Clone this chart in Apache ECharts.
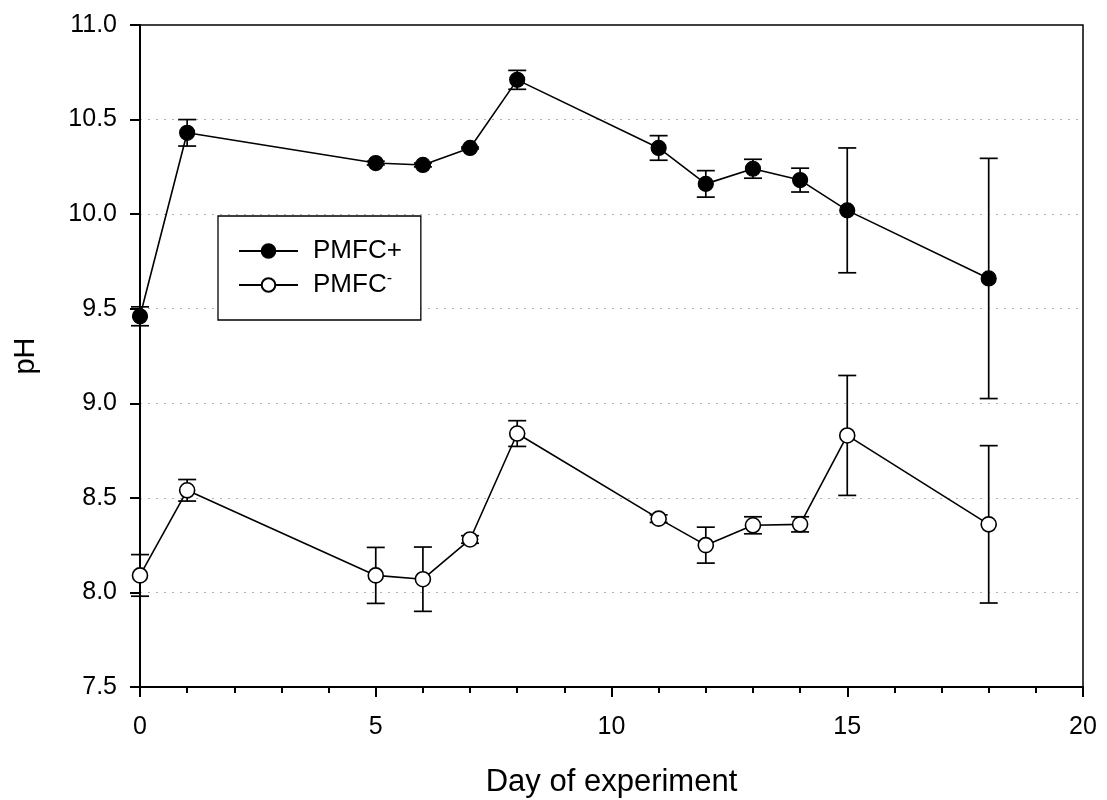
<!DOCTYPE html>
<html>
<head>
<meta charset="utf-8">
<script src="https://cdn.jsdelivr.net/npm/echarts@6/dist/echarts.min.js"></script>
<style>html,body{margin:0;padding:0;background:#fff}#c{width:1107px;height:800px}</style>
</head>
<body>
<div id="c"></div>
<script>
const days = [0, 1, 5, 6, 7, 8, 11, 12, 13, 14, 15, 18];
const plusMean = [9.46, 10.43, 10.27, 10.26, 10.35, 10.71, 10.35, 10.16, 10.24, 10.18, 10.02, 9.66];
const plusErr  = [0.05, 0.07, 0.01, 0.01, 0.005, 0.05, 0.065, 0.07, 0.05, 0.063, 0.33, 0.635];
const minusMean = [8.09, 8.54, 8.09, 8.07, 8.28, 8.84, 8.39, 8.25, 8.355, 8.36, 8.83, 8.36];
const minusErr  = [0.11, 0.057, 0.148, 0.17, 0.02, 0.068, 0.02, 0.095, 0.045, 0.04, 0.317, 0.416];
const yTicks = ['7.5','8.0','8.5','9.0','9.5','10.0','10.5','11.0'];
const xTicks = ['0','5','10','15','20'];

const font = 'Liberation Sans, Arial, sans-serif';
function pts(mean){ return days.map((d,i)=>[d, mean[i]]); }
function errData(mean, err){ return days.map((d,i)=>[d, mean[i]-err[i], mean[i]+err[i]]); }
function errSeries(mean, err){
  return {
    type: 'custom', z: 1, silent: true,
    data: errData(mean, err),
    renderItem: function(params, api){
      const lo = api.coord([api.value(0), api.value(1)]);
      const hi = api.coord([api.value(0), api.value(2)]);
      const hw = 9;
      const st = {stroke:'#000', lineWidth:1.7};
      return {type:'group', children:[
        {type:'line', shape:{x1:lo[0], y1:lo[1], x2:hi[0], y2:hi[1]}, style:st},
        {type:'line', shape:{x1:lo[0]-hw, y1:lo[1], x2:lo[0]+hw, y2:lo[1]}, style:st},
        {type:'line', shape:{x1:hi[0]-hw, y1:hi[1], x2:hi[0]+hw, y2:hi[1]}, style:st}
      ]};
    },
    encode: {x:0, y:[1,2]}
  };
}

const chart = echarts.init(document.getElementById('c'));
chart.setOption({
  animation: false,
  backgroundColor: '#fff',
  grid: {left:140, right:24, top:25, bottom:113, containLabel:false, outerBoundsMode:'none',
    show:true, borderColor:'#000', borderWidth:1.5, backgroundColor:'transparent'},
  xAxis: {
    type:'value', min:0, max:20, interval:5,
    name:'Day of experiment', nameLocation:'middle', nameGap:80,
    nameTextStyle:{fontFamily:font, fontSize:31, color:'#000'},
    axisLine:{show:true, lineStyle:{color:'#000', width:2}},
    axisTick:{show:true, length:10, lineStyle:{color:'#000', width:2}},
    minorTick:{show:true, splitNumber:5, length:6, lineStyle:{color:'#000', width:2}},
    axisLabel:{fontFamily:font, fontSize:25, color:'#000', margin:28,
      formatter: v => xTicks[xTicks.indexOf(String(v))] },
    splitLine:{show:false}
  },
  yAxis: {
    type:'value', min:7.5, max:11, interval:0.5,
    name:'pH', nameLocation:'middle', nameGap:100,
    nameTextStyle:{fontFamily:font, fontSize:29, color:'#000'},
    axisLine:{show:true, lineStyle:{color:'#000', width:2}},
    axisTick:{show:true, length:10, lineStyle:{color:'#000', width:2}},
    axisLabel:{fontFamily:font, fontSize:25, color:'#000', margin:23,
      formatter: v => yTicks[Math.round((v-7.5)/0.5)] },
    splitLine:{show:true, showMinLine:false, showMaxLine:false, lineStyle:{color:'#b0b0b0', type:[2,6], width:1}}
  },
  legend: {
    orient:'vertical', left:218, top:216,
    data:['PMFC+','PMFC-'],
    backgroundColor:'#fff', borderColor:'#000', borderWidth:1.3,
    padding:[22, 19, 22, 20], itemGap:7, itemWidth:59, itemHeight:17,
    textStyle:{fontFamily:font, fontSize:26, color:'#000', padding:[0,0,0,10],
      rich:{a:{fontFamily:font, fontSize:26, color:'#000'}, s:{fontFamily:font, fontSize:16, color:'#000', verticalAlign:'top', padding:[0,0,12,0]}}},
    formatter: n => n === 'PMFC-' ? '{a|PMFC}{s|-}' : n
  },
  series: [
    errSeries(plusMean, plusErr),
    errSeries(minusMean, minusErr),
    {name:'PMFC+', type:'line', z:3, data:pts(plusMean), symbol:'circle', symbolSize:15,
      lineStyle:{color:'#000', width:1.6}, itemStyle:{color:'#000', borderColor:'#000', borderWidth:1.2}},
    {name:'PMFC-', type:'line', z:3, data:pts(minusMean), symbol:'circle', symbolSize:15,
      lineStyle:{color:'#000', width:1.6}, itemStyle:{color:'#fff', borderColor:'#000', borderWidth:1.6}}
  ]
});
</script>
</body>
</html>
